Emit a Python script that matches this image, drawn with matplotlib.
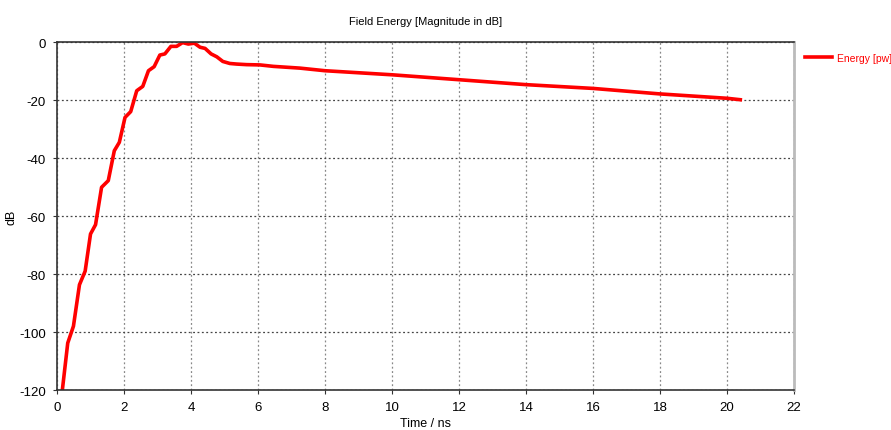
import matplotlib
matplotlib.use("Agg")
import matplotlib.pyplot as plt

plt.rcParams["axes.unicode_minus"] = False

# Field energy curve (time in ns, magnitude in dB)
time_ns = [0.16, 0.32, 0.49, 0.67, 0.84, 1.0, 1.15, 1.33, 1.53, 1.71, 1.86,
           2.03, 2.2, 2.38, 2.56, 2.73, 2.9, 3.07, 3.22, 3.4, 3.57, 3.75,
           3.92, 4.1, 4.27, 4.42, 4.6, 4.77, 4.95, 5.16, 5.36, 5.66, 6.06,
           6.46, 7.25, 8.0, 10.0, 12.0, 14.0, 16.0, 18.0, 20.0, 20.4]
energy_db = [-119.9, -103.8, -98.0, -83.7, -79.0, -66.2, -63.0, -50.1, -47.8,
             -37.5, -34.6, -26.0, -24.0, -16.8, -15.3, -9.9, -8.5, -4.5, -4.1,
             -1.5, -1.5, -0.2, -0.7, -0.4, -1.8, -2.2, -4.1, -5.1, -6.7, -7.4,
             -7.6, -7.8, -7.9, -8.4, -9.0, -9.9, -11.3, -13.0, -14.7, -16.0,
             -17.9, -19.4, -19.9]

x_ticks = [0, 2, 4, 6, 8, 10, 12, 14, 16, 18, 20, 22]
y_ticks = [-120, -100, -80, -60, -40, -20, 0]

font = ["Liberation Sans", "DejaVu Sans"]

fig = plt.figure(figsize=(8.91, 4.31), dpi=100)
ax = fig.add_axes([0.064, 0.0928, 0.827, 0.8074])

ax.plot(time_ns, energy_db, color="#ff0000", linewidth=2.6, label="Energy [pw]")

ax.set_xlim(0, 22)
ax.set_ylim(-120, 0)
ax.set_xticks(x_ticks)
ax.set_yticks(y_ticks)
ax.tick_params(direction="out", length=3, width=0.8, color="#333333",
               labelsize=9.5, pad=5)
for lab in ax.get_xticklabels() + ax.get_yticklabels():
    lab.set_family(font)

ax.xaxis.grid(True, linestyle=(0, (1.5, 2)), color="#888888", linewidth=0.9)
ax.yaxis.grid(True, linestyle=(0, (1.5, 2)), color="#444444", linewidth=0.9)

for side in ["left", "top", "bottom"]:
    ax.spines[side].set_color("#333333")
    ax.spines[side].set_linewidth(1.2)
ax.spines["right"].set_color("#bbbbbb")
ax.spines["right"].set_linewidth(2)

ax.set_title("Field Energy [Magnitude in dB]", fontsize=8, family=font, pad=13)
ax.set_ylabel("dB", fontsize=9, family=font)
ax.yaxis.set_label_coords(-0.053, 0.5)
ax.set_xlabel("Time / ns", fontsize=9, family=font, labelpad=3)

leg = fig.legend(loc="upper left", bbox_to_anchor=(0.903, 0.875), frameon=False,
                 handlelength=2.6, handletextpad=0.5, borderaxespad=0, borderpad=0,
                 prop={"family": font, "size": 7.5})
for t in leg.get_texts():
    t.set_color("#ff0000")

fig.savefig("out.png", dpi=100)
